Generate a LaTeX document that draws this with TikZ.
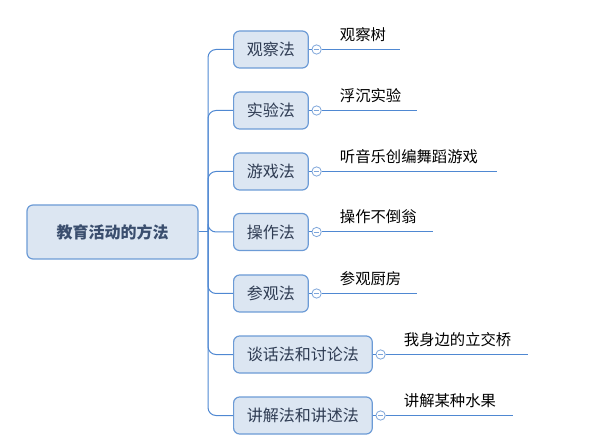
\documentclass[tikz,border=0pt]{standalone}
\usepackage{fontspec}
\setmainfont{Noto Sans CJK SC}
\begin{document}
\begin{tikzpicture}[x=0.75pt,y=-0.75pt,
  boxfill/.style={fill=boxbg,draw=boxline,line width=0.9pt,rounded corners=4.5pt},
  rootbox/.style={boxfill,minimum width=128.25pt,minimum height=40.5pt,inner sep=0pt,text=roottxt,font=\fontsize{12}{14}\selectfont\bfseries},
  branchbox/.style={boxfill,minimum height=27.75pt,inner xsep=10pt,inner ysep=0pt,text=boxtxt,font=\fontsize{12}{14}\selectfont},
  conn/.style={draw=linec,line width=0.75pt},
  fold/.style={circle,draw=circc,fill=white,line width=0.6pt,minimum size=7pt,inner sep=0pt,path picture={\draw[circc,line width=0.6pt] ([xshift=-2pt]path picture bounding box.center) -- ([xshift=2pt]path picture bounding box.center);}},
  leaf/.style={anchor=west,inner sep=0pt,text=black,font=\fontsize{11.5}{14}\selectfont}
]
\definecolor{boxbg}{HTML}{DCE6F2}
\definecolor{boxline}{HTML}{6C9BD6}
\definecolor{roottxt}{HTML}{3A4E6E}
\definecolor{boxtxt}{HTML}{2E3B52}
\definecolor{linec}{HTML}{4F88D2}
\definecolor{circc}{HTML}{7DA5DA}
\useasboundingbox (0,0) rectangle (609,448);

\node[rootbox] (root) at (112.5,232) {教育活动的方法};
\coordinate (trunk) at (208,232);

\foreach \i/\t/\y/\lab/\endx in {
  1/观察法/49.5/观察树/400,
  2/实验法/110.5/浮沉实验/417,
  3/游戏法/171.5/听音乐创编舞蹈游戏/497,
  4/操作法/232/操作不倒翁/433,
  5/参观法/293.5/参观厨房/417,
  6/谈话法和讨论法/354.5/我身边的立交桥/528,
  7/讲解法和讲述法/415.5/讲解某种水果/513}{
  \node[branchbox,anchor=west] (b\i) at (233,\y) {\t};
  \node[fold,anchor=west] (c\i) at ([xshift=2pt]b\i.east) {};
  \coordinate (e\i) at (\endx,\y);
  \draw[conn] (b\i.east) -- (c\i.west);
  \draw[conn] (c\i.east) -- (e\i);
  \path (c\i.east) ++(18,-15) node[leaf] (l\i) {\lab};
  \draw[conn,rounded corners=6pt] (trunk) |- (b\i.west);
}
\draw[conn] (root.east) -- (trunk);
\end{tikzpicture}
\end{document}
